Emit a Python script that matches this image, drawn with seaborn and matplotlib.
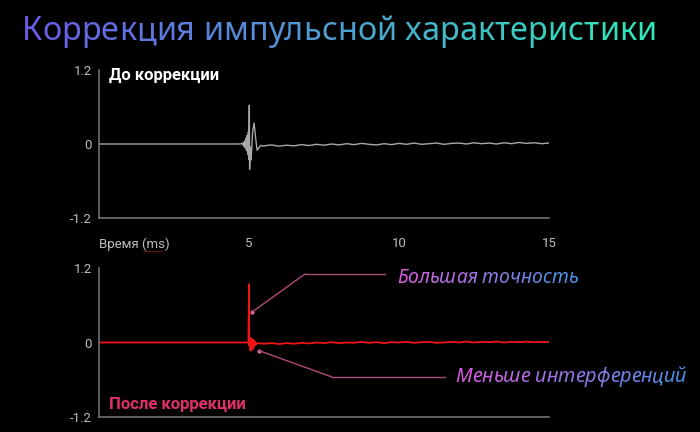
import matplotlib
matplotlib.use("Agg")
import matplotlib.pyplot as plt
from matplotlib.font_manager import FontProperties
from matplotlib.lines import Line2D
from matplotlib.colors import to_rgb
import numpy as np
import pandas as pd
import seaborn as sns

# ---------------- data ----------------
title = "Коррекция импульсной характеристики"
label_before = "До коррекции"
label_after = "После коррекции"
note_precision = "Большая точность"
note_interf = "Меньше интерференций"
x_label = "Время (ms)"
y_ticks = [-1.2, 0, 1.2]
x_ticks = [5, 10, 15]

# before correction (ms, amplitude)
before_t = [0.0, 4.70, 4.78, 4.80, 4.82, 4.84, 4.86, 4.88, 4.90, 4.92, 4.94, 4.96, 4.98,
            4.99, 5.01, 5.02, 5.05, 5.07, 5.12, 5.17, 5.22, 5.27, 5.33, 5.40, 5.45,
            5.5, 5.75, 6.0, 6.25, 6.5, 6.75, 7.0, 7.25, 7.5, 7.75, 8.0, 8.25, 8.5, 8.75,
            9.0, 9.25, 9.5, 9.75, 10.0, 10.25, 10.5, 10.75, 11.0, 11.25, 11.5, 11.75,
            12.0, 12.25, 12.5, 12.75, 13.0, 13.25, 13.5, 13.75, 14.0, 14.25, 14.5, 14.75, 15.0]
before_y = [0.0, 0.0, 0.01, -0.02, 0.03, -0.04, 0.05, -0.07, 0.09, -0.11, 0.14, -0.17, 0.2,
            -0.25, 0.63, -0.41, -0.05, -0.26, 0.20, 0.34, 0.10, -0.10, -0.06, -0.02, -0.035,
            -0.03, -0.015, -0.035, -0.02, -0.03, -0.01, -0.025, -0.005, -0.02, 0.0, -0.015, 0.005, -0.01, 0.01,
            -0.005, -0.015, 0.005, -0.01, 0.01, -0.005, 0.015, -0.005, 0.005, 0.015, -0.005, 0.01,
            0.015, 0.0, 0.02, 0.005, 0.015, 0.0, 0.02, 0.005, 0.025, 0.01, 0.02, 0.005, 0.015]

# after correction (ms, amplitude)
after_t = [0.0, 4.98, 5.00, 5.01, 5.03, 5.05, 5.07, 5.09, 5.11, 5.13, 5.15, 5.17, 5.19, 5.22, 5.26,
           5.5, 5.75, 6.0, 6.25, 6.5, 6.75, 7.0, 7.25, 7.5, 7.75, 8.0, 8.25, 8.5, 8.75,
           9.0, 9.25, 9.5, 9.75, 10.0, 10.25, 10.5, 10.75, 11.0, 11.25, 11.5, 11.75,
           12.0, 12.25, 12.5, 12.75, 13.0, 13.25, 13.5, 13.75, 14.0, 14.25, 14.5, 14.75, 15.0]
after_y = [0.0, 0.0, 0.94, -0.05, 0.08, -0.13, 0.07, -0.12, 0.05, -0.10, 0.04, -0.07, 0.02, -0.04, -0.01,
           -0.02, -0.01, -0.025, -0.01, -0.02, -0.005, -0.015, 0.0, -0.01, 0.005, -0.01, 0.0, -0.005, 0.01,
           -0.005, 0.005, -0.01, 0.005, 0.0, 0.01, -0.005, 0.005, 0.01, -0.005, 0.0, 0.01,
           0.0, 0.015, 0.0, 0.01, 0.005, 0.015, 0.0, 0.01, 0.005, 0.015, 0.005, 0.01, 0.005]

df_before = pd.DataFrame({"t": before_t, "y": before_y})
df_after = pd.DataFrame({"t": after_t, "y": after_y})

# ---------------- figure ----------------
W, H = 700, 432
sns.set_theme(style="dark")
plt.rcParams["font.family"] = ["Roboto", "DejaVu Sans"]
fig = plt.figure(figsize=(W / 100, H / 100), dpi=100, facecolor="black")

def px_box(x0, y_top, x1, y_bot):
    return [x0 / W, 1 - y_bot / H, (x1 - x0) / W, (y_bot - y_top) / H]

ax1 = fig.add_axes(px_box(99, 70, 549, 218))
ax2 = fig.add_axes(px_box(99, 268, 549, 417))

tick_col = "#bdbdbd"
spine_col = "#7a7a7a"
for ax in (ax1, ax2):
    ax.set_facecolor("none")
    ax.set_xlim(0, 15)
    ax.set_ylim(-1.2, 1.2)
    ax.set_yticks(y_ticks)
    ax.set_yticklabels(["-1.2", "0", "1.2"])
    ax.grid(False)
    for s in ("top", "right"):
        ax.spines[s].set_visible(False)
    for s in ("left", "bottom"):
        ax.spines[s].set_visible(True)
        ax.spines[s].set_color(spine_col)
        ax.spines[s].set_linewidth(1.1)
    ax.tick_params(axis="y", length=0, pad=5, labelsize=9.5, colors=tick_col)
    ax.tick_params(axis="x", length=0, pad=14, labelsize=9.5, colors=tick_col)

ax1.set_xticks(x_ticks)
ax1.set_xticklabels([str(v) for v in x_ticks])
ax2.set_xticks([])

sns.lineplot(data=df_before, x="t", y="y", ax=ax1, estimator=None, sort=False,
             color="#a8a8a8", linewidth=1.0)
sns.lineplot(data=df_after, x="t", y="y", ax=ax2, estimator=None, sort=False,
             color="#f01515", linewidth=1.3)
ax1.set_xlabel(""); ax1.set_ylabel("")
ax2.set_xlabel(""); ax2.set_ylabel("")

def fx(px):
    return px / W

def fy(py):
    return 1 - py / H

fig.text(fx(99), fy(248), x_label, color=tick_col, fontsize=9.5, ha="left", va="baseline")
fig.add_artist(Line2D([fx(143), fx(162)], [fy(251), fy(251)], color="#c02020",
                      lw=0.8, ls=(0, (1, 1))))

fig.text(fx(109), fy(80), label_before, color="white", fontsize=12, fontweight="bold",
         ha="left", va="baseline")
fig.text(fx(109), fy(409), label_after, color="#e0306a", fontsize=12, fontweight="bold",
         ha="left", va="baseline")

# ---------------- gradient text helper ----------------
renderer = fig.canvas.get_renderer()

def text_w(s, fp):
    w, h, d = renderer.get_text_width_height_descent(s, fp, ismath=False)
    return w

def gradient_text(s, x_px, base_px, fp, c0, c1, target_w=None):
    if target_w is not None:
        w = text_w(s, fp)
        fp = fp.copy()
        fp.set_size(fp.get_size_in_points() * target_w / w)
    c0 = np.array(to_rgb(c0)); c1 = np.array(to_rgb(c1))
    n = len(s)
    for i, ch in enumerate(s):
        if ch == " ":
            continue
        off = text_w(s[:i + 1], fp) - text_w(ch, fp)
        f = i / (n - 1)
        col = c0 * (1 - f) + c1 * f
        fig.text(fx(x_px + off), fy(base_px), ch, fontproperties=fp, color=col,
                 ha="left", va="baseline")

fp_title = FontProperties(family="Noto Sans", size=28)
gradient_text(title, 22, 40, fp_title, "#6a5ce8", "#2ee8b8", target_w=633)

fp_note = FontProperties(family="Noto Sans", style="italic", weight=600, size=14)
gradient_text(note_precision, 397, 283, fp_note, "#de5ee0", "#4a92e6", target_w=181)
gradient_text(note_interf, 455, 382, fp_note, "#d85ce0", "#4a90e6", target_w=232)

# ---------------- annotation leaders ----------------
lead_col = "#b04a7a"
ax2.annotate("", xy=(5.1, 0.49), xycoords="data",
             xytext=(fx(305), fy(274)), textcoords="figure fraction",
             arrowprops=dict(arrowstyle="-", color=lead_col, lw=1.0, shrinkA=0, shrinkB=0))
fig.add_artist(Line2D([fx(305), fx(385)], [fy(274), fy(274)], color=lead_col, lw=1.0))
ax2.plot([5.1], [0.49], "o", ms=2, color="#e070a0")

ax2.annotate("", xy=(5.33, -0.13), xycoords="data",
             xytext=(fx(332), fy(377)), textcoords="figure fraction",
             arrowprops=dict(arrowstyle="-", color=lead_col, lw=1.0, shrinkA=0, shrinkB=0))
fig.add_artist(Line2D([fx(332), fx(445)], [fy(377), fy(377)], color=lead_col, lw=1.0))
ax2.plot([5.33], [-0.13], "o", ms=2, color="#e070a0")

fig.savefig("out.png", dpi=100, facecolor="black")
